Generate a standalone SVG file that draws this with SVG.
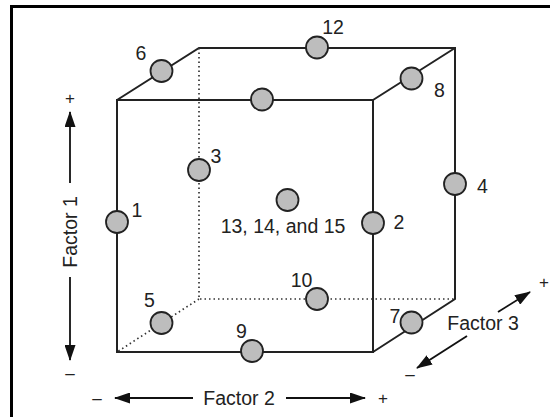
<svg xmlns="http://www.w3.org/2000/svg" width="550" height="417" viewBox="0 0 550 417">
<defs>
<style>
.edge{stroke:#222;stroke-width:2;fill:none}
.hid{stroke:#333;stroke-width:1.7;stroke-dasharray:1.5 3;fill:none}
.pt{fill:#bdbdbd;stroke:#222;stroke-width:1.8}
.lbl{font-family:"Liberation Sans",Arial,sans-serif;font-size:19.5px;fill:#222;text-anchor:middle}
.sign{font-family:"Liberation Sans",Arial,sans-serif;font-size:17px;fill:#222;text-anchor:middle}
.ax{stroke:#111;stroke-width:1.8;fill:none}
</style>
<marker id="ah" viewBox="0 0 16 11" refX="15" refY="5.5" markerWidth="16" markerHeight="11" markerUnits="userSpaceOnUse" orient="auto">
<path d="M0,0 L16,5.5 L0,11 Z" fill="#111"/>
</marker>
</defs>
<rect width="550" height="417" fill="#fff"/>
<rect x="11.5" y="6.5" width="620" height="500" fill="none" stroke="#000" stroke-width="3"/>
<g id="connectors">
<rect class="edge" x="117" y="100" width="256" height="252"/>
<path class="edge" d="M117,100 L199,48 L455,48 L455,299 L373,352 M373,100 L455,48"/>
<path class="hid" d="M199,48 L199,299 L455,299 M199,299 L117,352"/>
</g>
<g id="n1"><circle class="pt" cx="117" cy="222" r="11"/><text class="lbl" x="137" y="217">1</text></g>
<g id="n2"><circle class="pt" cx="373" cy="223" r="11"/><text class="lbl" x="399" y="229">2</text></g>
<g id="n3"><circle class="pt" cx="199" cy="170" r="11"/><text class="lbl" x="216" y="163">3</text></g>
<g id="n4"><circle class="pt" cx="455" cy="184" r="11"/><text class="lbl" x="482.5" y="193">4</text></g>
<g id="n5"><circle class="pt" cx="161.5" cy="323" r="11"/><text class="lbl" x="149.5" y="306.5">5</text></g>
<g id="n6"><circle class="pt" cx="161.5" cy="71" r="11"/><text class="lbl" x="141" y="60">6</text></g>
<g id="n7"><circle class="pt" cx="411.5" cy="322.5" r="11"/><text class="lbl" x="395" y="323">7</text></g>
<g id="n8"><circle class="pt" cx="411.5" cy="78.5" r="11"/><text class="lbl" x="439.5" y="97">8</text></g>
<g id="n9"><circle class="pt" cx="252" cy="351" r="11"/><text class="lbl" x="241.5" y="338">9</text></g>
<g id="n10"><circle class="pt" cx="317" cy="299" r="11"/><text class="lbl" x="301.5" y="287">10</text></g>
<g id="n11"><circle class="pt" cx="262" cy="99.5" r="11"/></g>
<g id="n12"><circle class="pt" cx="317" cy="47.5" r="11"/><text class="lbl" x="333" y="34">12</text></g>
<g id="n13"><circle class="pt" cx="287.5" cy="200" r="11"/><text class="lbl" x="283" y="233">13, 14, and 15</text></g>
<g id="factor1">
<path class="ax" d="M70,183 L70,112" marker-end="url(#ah)"/>
<path class="ax" d="M70,277 L70,360" marker-end="url(#ah)"/>
<text class="sign" x="70" y="104">+</text>
<text class="sign" x="70" y="379">–</text>
<text class="lbl" transform="translate(77,232) rotate(-90)">Factor 1</text>
</g>
<g id="factor2">
<path class="ax" d="M193,398 L115,398" marker-end="url(#ah)"/>
<path class="ax" d="M286,398 L365,398" marker-end="url(#ah)"/>
<text class="sign" x="97" y="404">–</text>
<text class="sign" x="383" y="404">+</text>
<text class="lbl" x="239" y="405">Factor 2</text>
</g>
<g id="factor3">
<path class="ax" d="M498,312 L530,292" marker-end="url(#ah)"/>
<path class="ax" d="M467,336 L417,368" marker-end="url(#ah)"/>
<text class="sign" x="544" y="288">+</text>
<text class="sign" x="410" y="380">–</text>
<text class="lbl" x="483" y="330">Factor 3</text>
</g>
</svg>
